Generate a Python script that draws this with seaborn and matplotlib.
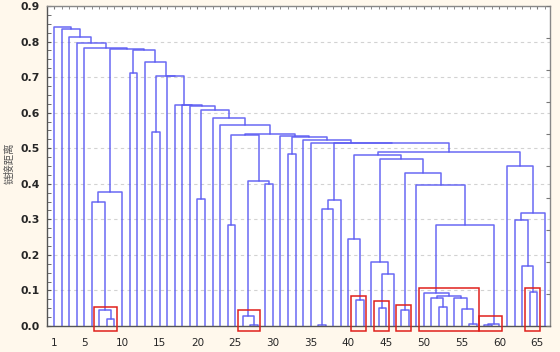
import matplotlib
matplotlib.use("Agg")
import matplotlib.pyplot as plt
from matplotlib.patches import Rectangle
from matplotlib.ticker import MultipleLocator
import numpy as np
import pandas as pd
import seaborn as sns

# leaves are numbered 1..66 from left to right,
# merge k (0-based) gets node id 67 + k
n_leaves = 66
merge_left = [8, 7, 6, 69, 11, 14, 20, 24, 27, 26, 29, 76, 74, 32, 36, 81, 82,
              41, 40, 44, 86, 43, 47, 52, 51, 56, 55, 54, 91, 50, 58, 97, 96,
              49, 89, 88, 85, 64, 63, 62, 106, 61, 103, 83, 35, 34, 80, 31, 79,
              23, 22, 73, 19, 18, 17, 16, 72, 13, 71, 70, 5, 4, 3, 2, 1]
merge_right = [9, 67, 68, 10, 12, 15, 21, 25, 28, 75, 30, 77, 78, 33, 37, 38, 39,
               42, 84, 45, 46, 87, 48, 53, 90, 57, 92, 93, 94, 95, 59, 60, 98,
               99, 100, 101, 102, 65, 104, 105, 66, 107, 108, 109, 110, 111, 112,
               113, 114, 115, 116, 117, 118, 119, 120, 121, 122, 123, 124, 125,
               126, 127, 128, 129, 130]
merge_height = [0.021, 0.044, 0.350, 0.377, 0.711, 0.546, 0.358, 0.285, 0.003,
                0.028, 0.398, 0.409, 0.537, 0.485, 0.003, 0.328, 0.353, 0.072,
                0.244, 0.050, 0.147, 0.181, 0.044, 0.054, 0.078, 0.007, 0.047,
                0.079, 0.085, 0.094, 0.003, 0.006, 0.283, 0.396, 0.429, 0.471,
                0.480, 0.096, 0.169, 0.299, 0.319, 0.451, 0.490, 0.514, 0.516,
                0.522, 0.531, 0.533, 0.539, 0.564, 0.586, 0.607, 0.619, 0.621,
                0.622, 0.702, 0.704, 0.743, 0.777, 0.779, 0.781, 0.795, 0.812,
                0.836, 0.841]

x_ticks = [1, 5, 10, 15, 20, 25, 30, 35, 40, 45, 50, 55, 60, 65]
y_ticks = [0.0, 0.1, 0.2, 0.3, 0.4, 0.5, 0.6, 0.7, 0.8, 0.9]

# highlighted groups: first leaf, last leaf, top of the box
box_first = [7, 26, 41, 44, 47, 50, 58, 64]
box_last = [9, 28, 42, 45, 48, 57, 60, 65]
box_top = [0.054, 0.045, 0.084, 0.070, 0.059, 0.106, 0.027, 0.106]
box_color = ["#e0201c"] * 8


def dendrogram_segments():
    pos = {i: float(i) for i in range(1, n_leaves + 1)}
    hgt = {i: 0.0 for i in range(1, n_leaves + 1)}
    rows = []
    for k, (a, b, h) in enumerate(zip(merge_left, merge_right, merge_height)):
        node = n_leaves + 1 + k
        xa, xb = pos[a], pos[b]
        rows += [(k, xa, hgt[a]), (k, xa, h), (k, xb, h), (k, xb, hgt[b])]
        pos[node] = (xa + xb) / 2
        hgt[node] = h
    return pd.DataFrame(rows, columns=["seg", "x", "y"])


sns.set_style("white")
plt.rcParams["font.family"] = ["DejaVu Sans", "Noto Sans CJK SC"]

fig = plt.figure(figsize=(5.6, 3.52), dpi=100, facecolor="#fff8ec")
ax = fig.add_axes([47 / 560, 26 / 352, 503 / 560, 320 / 352])
ax.set_facecolor("white")

df = dendrogram_segments()
sns.lineplot(data=df, x="x", y="y", units="seg", estimator=None, sort=False,
             color="#5a5af2", lw=1.1, alpha=0.9, ax=ax, legend=False)

# boxes sit a little to the left of their leaves, as in the original
for f, l, t, c in zip(box_first, box_last, box_top, box_color):
    ax.add_patch(Rectangle((f - 0.65, -0.014), l - f + 1.0, t + 0.014,
                           fill=False, ec=c, lw=1.1, clip_on=False, zorder=4))

ax.set_xlim(0.07, 66.7)
ax.set_ylim(0, 0.9)
ax.set_xticks(x_ticks)
ax.set_yticks(y_ticks)
ax.set_yticklabels([f"{v:.1f}" for v in y_ticks], fontweight="bold", fontsize=7.8)
ax.set_xticklabels([str(v) for v in x_ticks], fontsize=7.5)
ax.xaxis.set_minor_locator(MultipleLocator(1))
ax.yaxis.set_minor_locator(MultipleLocator(0.025))
ax.tick_params(axis="x", which="both", bottom=False, top=True, direction="in",
               length=2.5, color="#777777", pad=9)
ax.tick_params(axis="y", which="both", left=True, direction="in", length=3,
               color="#555555", pad=5)
ax.yaxis.grid(True, linestyle=(0, (3, 3)), color="#d2d2d2", lw=0.8)
ax.set_axisbelow(True)
ax.set_xlabel("")
ax.set_ylabel("链接距离", family=["Noto Sans CJK SC", "DejaVu Sans"],
              fontsize=7.5, color="#555555")
ax.yaxis.set_label_coords(-0.064, 0.51)

ax2 = ax.twinx()
ax2.set_ylim(0, 10)
ax2.set_yticks(range(11))
ax2.tick_params(axis="y", direction="in", length=3, color="#777777",
                labelright=False)
for name, sp in ax.spines.items():
    sp.set_color("#555555" if name in ("left", "bottom") else "#888888")
    sp.set_linewidth(1.0)
for sp in ax2.spines.values():
    sp.set_visible(False)

plt.savefig("out.png", dpi=100, facecolor=fig.get_facecolor())
